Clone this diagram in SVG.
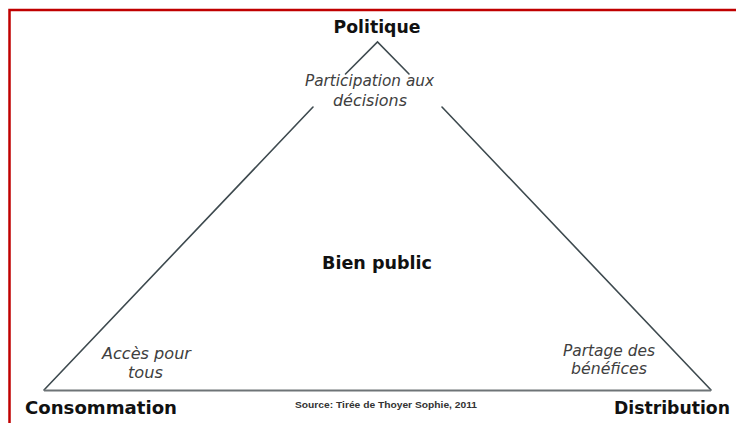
<svg xmlns="http://www.w3.org/2000/svg" width="736" height="423" viewBox="0 0 736 423">
  <style>
    .pole { font-family: "DejaVu Sans", "Liberation Sans", sans-serif; font-weight: bold; font-size: 17.5px; fill: #111; }
    .note { font-family: "DejaVu Sans", "Liberation Sans", sans-serif; font-style: italic; font-size: 15px; fill: #404040; }
    .src { font-family: "Liberation Sans", Arial, sans-serif; font-weight: bold; font-size: 9.5px; fill: #333; }
    .side { stroke: #3e4a4f; stroke-width: 1.6; fill: none; stroke-linecap: round; }
    .base { stroke: #6e7477; stroke-width: 2; fill: none; }
    .frame { stroke: #c00000; stroke-width: 2.5; fill: none; }
  </style>

  <rect width="736" height="423" fill="#ffffff"/>

  <!-- frame: top and left rules -->
  <path class="frame" d="M9.5 423 V10 H736"/>

  <!-- triangle edges -->
  <g id="connectors">
    <path class="side" d="M345.5 74 L377.5 42 L409 74"/>
    <path class="side" d="M313 107 L44 390"/>
    <path class="side" d="M442 107 L711 390"/>
    <path class="base" d="M44 390.5 H711"/>
  </g>

  <g id="politique">
    <text class="pole" x="377" y="33" text-anchor="middle" textLength="87" lengthAdjust="spacingAndGlyphs">Politique</text>
  </g>

  <g id="participation">
    <text class="note" x="369.5" y="86" text-anchor="middle" textLength="129" lengthAdjust="spacingAndGlyphs">Participation aux</text>
    <text class="note" x="370" y="106" text-anchor="middle" textLength="74" lengthAdjust="spacingAndGlyphs">décisions</text>
  </g>

  <g id="bien-public">
    <text class="pole" x="377" y="269" text-anchor="middle" textLength="110" lengthAdjust="spacingAndGlyphs">Bien public</text>
  </g>

  <g id="acces">
    <text class="note" x="146.5" y="359" text-anchor="middle" textLength="89" lengthAdjust="spacingAndGlyphs">Accès pour</text>
    <text class="note" x="145.5" y="378" text-anchor="middle" textLength="35" lengthAdjust="spacingAndGlyphs">tous</text>
  </g>

  <g id="partage">
    <text class="note" x="609" y="356" text-anchor="middle" textLength="92" lengthAdjust="spacingAndGlyphs">Partage des</text>
    <text class="note" x="609" y="374" text-anchor="middle" textLength="76" lengthAdjust="spacingAndGlyphs">bénéfices</text>
  </g>

  <g id="consommation">
    <text class="pole" x="25" y="414" textLength="152" lengthAdjust="spacingAndGlyphs">Consommation</text>
  </g>

  <g id="distribution">
    <text class="pole" x="614" y="414" textLength="116" lengthAdjust="spacingAndGlyphs">Distribution</text>
  </g>

  <g id="source">
    <text class="src" x="295" y="408" textLength="182" lengthAdjust="spacingAndGlyphs">Source: Tirée  de Thoyer Sophie, 2011</text>
  </g>
</svg>
